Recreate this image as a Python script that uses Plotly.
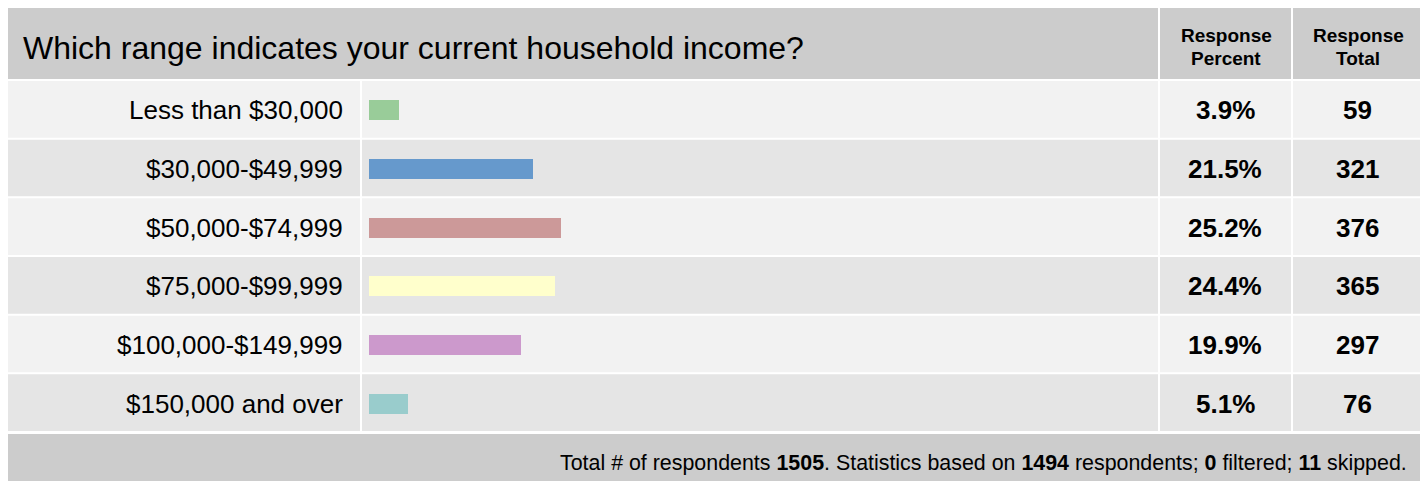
import plotly.graph_objects as go

categories = ["Less than $30,000", "$30,000-$49,999", "$50,000-$74,999",
              "$75,000-$99,999", "$100,000-$149,999", "$150,000 and over"]
percents = [3.9, 21.5, 25.2, 24.4, 19.9, 5.1]
totals = [59, 321, 376, 365, 297, 76]
bar_colors = ["#99cc99", "#6699cc", "#cc9999", "#ffffcc", "#cc99cc", "#99cccc"]
title_text = "Which range indicates your current household income?"
col_headers = [["Response", "Percent"], ["Response", "Total"]]
footer_text = ("Total # of respondents <b>1505</b>. Statistics based on <b>1494</b> "
               "respondents; <b>0</b> filtered; <b>11</b> skipped.")

# page body has an 8px margin; figure sits at (8, 8)
OFF = 8
W, H = 1420, 473
FONT = "Liberation Sans, Arial, Helvetica, sans-serif"
NARROW = "Liberation Sans Narrow, Arial Narrow, Liberation Sans, Arial, sans-serif"


def px(x):
    return (x - OFF) / W


def py(y):
    return 1 - (y - OFF) / H


shapes = []


def rect(x0, y0, x1, y1, color):
    shapes.append(dict(type="rect", xref="paper", yref="paper",
                       x0=px(x0), x1=px(x1), y0=py(y1), y1=py(y0),
                       fillcolor=color, line=dict(width=0), layer="below"))


# header
rect(8, 8, 1158, 79, "#cccccc")
rect(1160, 8, 1291, 79, "#cccccc")
rect(1293, 8, 1420, 79, "#cccccc")

ROW_TOP, ROW_BOT = 81, 433
pitch = (ROW_BOT - ROW_TOP) / len(categories)
for i in range(len(categories)):
    t = ROW_TOP + i * pitch
    b = t + pitch - 2
    c = "#f2f2f2" if i % 2 == 0 else "#e5e5e5"
    rect(8, t, 360, b, c)
    rect(362, t, 1158, b, c)
    rect(1160, t, 1291, b, c)
    rect(1293, t, 1420, b, c)

# footer
rect(8, 434, 1420, 490, "#cccccc")

fig = go.Figure()
fig.add_trace(go.Bar(
    x=percents, y=categories, orientation="h",
    marker=dict(color=bar_colors, line=dict(width=0)),
    width=0.34, hoverinfo="skip", showlegend=False,
))

annotations = []
annotations.append(dict(text=title_text, xref="paper", yref="paper",
                        x=px(21), y=py(48), xanchor="left", yanchor="middle",
                        showarrow=False, font=dict(family=FONT, size=32, color="#000")))
for lines, cx in zip(col_headers, [1226, 1358]):
    for ln, anchor in zip(lines, ["bottom", "top"]):
        annotations.append(dict(text="<b>" + ln + "</b>", xref="paper", yref="paper",
                                x=px(cx), y=py(47.5), xanchor="center", yanchor=anchor,
                                showarrow=False, borderpad=0,
                                font=dict(family=NARROW, size=19, color="#000")))
for cat, p, t in zip(categories, percents, totals):
    annotations.append(dict(text=cat, xref="paper", yref="y", x=px(345), y=cat,
                            xanchor="right", yanchor="middle", showarrow=False,
                            font=dict(family=FONT, size=26, color="#000")))
    annotations.append(dict(text="<b>%.1f%%</b>" % p, xref="paper", yref="y", x=px(1225), y=cat,
                            xanchor="center", yanchor="middle", showarrow=False,
                            font=dict(family=FONT, size=26, color="#000")))
    annotations.append(dict(text="<b>%d</b>" % t, xref="paper", yref="y", x=px(1357), y=cat,
                            xanchor="center", yanchor="middle", showarrow=False,
                            font=dict(family=FONT, size=26, color="#000")))
annotations.append(dict(text=footer_text, xref="paper", yref="paper",
                        x=px(1409), y=py(463), xanchor="right", yanchor="middle",
                        showarrow=False, font=dict(family=NARROW, size=21.4, color="#000")))

fig.update_layout(
    width=W, height=H, margin=dict(l=0, r=0, t=0, b=0),
    paper_bgcolor="white", plot_bgcolor="rgba(0,0,0,0)",
    shapes=shapes, annotations=annotations, bargap=0,
    xaxis=dict(domain=[px(369), px(369 + 763)], range=[0, 100], visible=False, fixedrange=True),
    yaxis=dict(domain=[py(ROW_BOT), py(ROW_TOP)], range=[len(categories) - 0.5, -0.5],
               type="category", categoryorder="array", categoryarray=categories,
               visible=False, fixedrange=True),
)

fig.write_html("out.html")
